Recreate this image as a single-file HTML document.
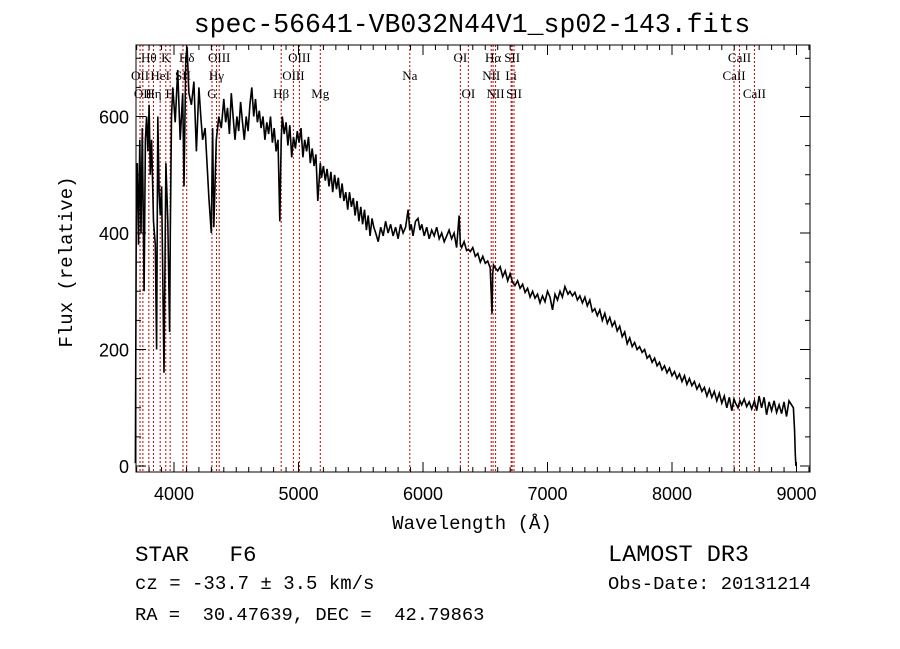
<!DOCTYPE html>
<html><head><meta charset="utf-8"><style>
body{margin:0;background:#fff;}
svg{display:block;}
text{white-space:pre;}
.t{font-family:"Liberation Sans",sans-serif;fill:#000;}
.m{font-family:"Liberation Mono",monospace;fill:#000;}
.s{font-family:"Liberation Serif",serif;fill:#000;font-size:13px;}
</style></head><body>
<svg id="c" width="900" height="649" viewBox="0 0 900 649">
<rect width="900" height="649" fill="#fff"/>
<text class="m" x="472" y="32" font-size="26.5" text-anchor="middle">spec-56641-VB032N44V1_sp02-143.fits</text>
<g id="lines"></g>
<g id="labels"></g>
<polyline id="spec" fill="none" stroke="#000" stroke-width="1.6" stroke-linejoin="miter"/>
<rect x="136" y="45" width="674" height="427" fill="none" stroke="#000" stroke-width="1"/>
<g id="ticks" stroke="#000" stroke-width="1"></g>
<g id="ticklabels"></g>
<text class="m" x="472" y="529" font-size="19" text-anchor="middle">Wavelength (Å)</text>
<text class="m" x="72" y="262" font-size="19" text-anchor="middle" transform="rotate(-90 72 262)">Flux (relative)</text>
<text class="m" x="135" y="561" font-size="22.5">STAR   F6</text>
<text class="m" x="608" y="561" font-size="23.5">LAMOST DR3</text>
<text class="m" x="135" y="589" font-size="19">cz = -33.7 ± 3.5 km/s</text>
<text class="m" x="608" y="589" font-size="18.8">Obs-Date: 20131214</text>
<text class="m" x="135" y="620" font-size="18.8">RA =  30.47639, DEC =  42.79863</text>
</svg>
<script>
const wl=[3690,3697,3705,3715,3725,3735,3745,3760,3770,3780,3790,3800,3810,3820,3835,3850,3860,3870,3880,3890,3900,3920,3935,3950,3965,3970,3980,3990,4010,4030,4050,4070,4080,4095,4105,4120,4140,4160,4180,4200,4215,4230,4250,4265,4280,4300,4310,4320,4340,4360,4380,
4400,4415,4430,4445,4460,4475,4490,4505,4520,4535,4550,4565,4580,4595,4610,4625,4640,4655,4670,4685,4700,4715,4730,4745,4760,4775,4790,4805,4820,4835,4850,4861,4870,4885,4900,4915,4930,4945,4960,4975,4990,5005,5020,5035,5050,5065,5080,5095,5110,5125,5140,5155,5175,5185,5200,5215,5230,5245,5260,5275,5290,5305,5320,5335,5350,5365,5380,5395,5410,5425,5440,5455,5470,5485,5500,5515,5530,5545,5560,5575,5590,5605,5620,5640,5660,5680,5700,5720,5740,5760,5780,5800,5820,5840,5860,5880,5894,5905,5920,5940,5960,5976,5990,6010,6030,6050,6070,6090,6110,6130,6150,6170,6190,6210,6230,6250,6270,6290,6300,6310,6330,6350,6365,6380,6400,6420,6440,6460,6480,6500,6520,6540,6554,6560,6566,6580,6600,6620,6640,6660,6680,6700,6720,6740,6760,6780,6800,6820,6840,6860,6880,6900,6920,6940,6960,6980,7000,7020,7040,7060,7080,7100,7120,7140,7165,7180,7200,7220,7240,7260,7280,7300,7320,7340,7360,7380,7400,7420,7440,7460,7480,7500,7520,7540,7560,7580,7600,7620,7640,7660,7680,7700,7720,7740,7760,7780,7800,7820,7840,7860,7880,7900,7920,7940,7960,7980,8000,8020,8040,8060,8080,8100,8120,8140,8160,8180,8200,8220,8240,8260,8280,8300,8320,8340,8360,8380,8400,8420,8440,8460,8480,8498,8510,8530,8545,8560,8580,8600,8620,8640,8662,8680,8700,8720,8740,8760,8780,8800,8820,8840,8860,8880,8900,8920,8940,8960,8975,8985,8990,8995,9000];
const flux=[5,440,520,380,560,400,580,300,560,600,540,620,500,560,420,380,200,600,470,430,480,160,520,420,230,400,600,650,590,680,560,640,480,700,720,640,620,660,540,650,600,560,580,520,460,400,580,410,560,600,
580,630,590,615,570,640,600,560,600,575,625,590,560,600,575,620,650,600,630,590,610,580,600,560,590,570,600,555,580,540,560,420,560,600,570,590,550,585,530,565,545,575,555,580,530,560,540,565,520,545,515,535,455,520,495,515,490,510,480,505,470,500,475,495,460,485,455,470,440,470,445,460,430,455,420,445,415,440,405,430,395,425,410,400,385,410,395,420,400,415,395,410,390,415,400,410,440,405,415,395,420,425,405,415,395,410,390,405,395,410,390,400,385,395,405,390,400,375,430,380,375,385,370,372,368,375,360,365,350,360,348,352,340,262,330,345,340,335,342,325,335,318,330,315,310,318,305,312,298,305,290,300,288,295,280,292,282,300,290,268,295,285,300,290,308,295,300,292,298,285,292,280,290,275,285,265,270,258,268,250,262,245,255,240,248,232,240,222,230,210,220,205,212,200,205,195,200,185,190,178,185,172,178,165,172,160,168,155,162,150,158,145,155,140,150,138,145,132,140,128,135,120,132,118,128,112,125,108,120,100,118,95,115,108,100,112,105,115,102,110,98,112,95,120,100,118,88,110,95,112,92,105,90,110,85,112,105,100,60,20,0];
const markWl=[3727,3750,3798,3835,3889,3934,3969,4072,4102,4305,4341,4363,4861,4959,5007,5175,5894,6300,6364,6548,6563,6583,6708,6716,6731,8498,8542,8662];
const labelText=["Hθ","K","Hδ","OIII","OIII","OI","Hα","SII","CaII","OII","HeI","SII","Hγ","OIII","Na","NII","Li","CaII","OII","Hη","H","G","Hβ","Mg","OI","NII","SII","CaII"];
const labelWl=[3798,3934,4102,4363,5007,6300,6563,6716,8542,3727,3889,4072,4341,4959,5894,6548,6708,8498,3750,3835,3969,4305,4861,5175,6364,6583,6731,8662];
const labelRow=[0,0,0,0,0,0,0,0,0,1,1,1,1,1,1,1,1,1,2,2,2,2,2,2,2,2,2,2];
const xTicks=[4000,5000,6000,7000,8000,9000];
const yTicks=[0,200,400,600];
const NS="http://www.w3.org/2000/svg";
function X(l){return 174+(l-4000)*0.1245;}
function Y(v){return 466-v*0.5825;}
function mk(t,p){const e=document.createElementNS(NS,t);p.appendChild(e);return e;}
const pts=wl.map((l,i)=>X(l).toFixed(1)+","+Y(flux[i]).toFixed(1)).join(" ");
document.getElementById('spec').setAttribute('points',pts);
const gl=document.getElementById('lines');
markWl.forEach(l=>{const e=mk('line',gl);


e.setAttribute('x1',X(l));e.setAttribute('x2',X(l));e.setAttribute('y1',45);e.setAttribute('y2',472);
e.setAttribute('stroke','#c00000');e.setAttribute('stroke-width','1');e.setAttribute('stroke-dasharray','2,2');});
const lb=document.getElementById('labels');
const rowY=[62,80,98];
labelText.forEach((t,i)=>{const e=mk('text',lb);


e.setAttribute('class','s');e.setAttribute('x',X(labelWl[i]));e.setAttribute('y',rowY[labelRow[i]]);
e.setAttribute('text-anchor','middle');e.textContent=t;});
const tk=document.getElementById('ticks');
function tl(x1,y1,x2,y2){const e=mk('line',tk);


e.setAttribute('x1',x1);e.setAttribute('y1',y1);e.setAttribute('x2',x2);e.setAttribute('y2',y2);}
for(let l=3700;l<=9100;l+=100){const x=X(l);const len=(l%1000===0)?10:5;tl(x,472,x,472-len);tl(x,45,x,45+len);}
for(let v=0;v<=700;v+=50){const y=Y(v);const len=(v%200===0)?10:5;tl(136,y,136+len,y);tl(810,y,810-len,y);}
const tlab=document.getElementById('ticklabels');
xTicks.forEach(l=>{const e=mk('text',tlab);


e.setAttribute('class','t');e.setAttribute('font-size','18');e.setAttribute('x',X(l));e.setAttribute('y',500);e.setAttribute('text-anchor','middle');e.textContent=l;});
yTicks.forEach(v=>{const e=mk('text',tlab);


e.setAttribute('class','t');e.setAttribute('font-size','18');e.setAttribute('x',129);e.setAttribute('y',Y(v)+7);e.setAttribute('text-anchor','end');e.textContent=v;});
</script>
</body></html>
